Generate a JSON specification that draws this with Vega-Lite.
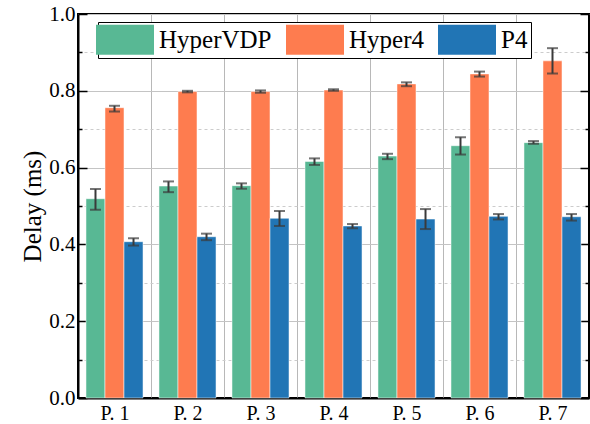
{
  "$schema": "https://vega.github.io/schema/vega-lite/v6.json",
  "autosize": "none",
  "width": 511,
  "height": 384,
  "padding": {"left": 78, "top": 14, "right": 1, "bottom": 26},
  "background": "white",
  "config": {
    "view": {"stroke": "black", "strokeWidth": 2},
    "font": "Liberation Serif"
  },
  "data": {
    "values": [
      {"g": "P. 1", "s": "HyperVDP", "v": 0.519, "lo": 0.490, "hi": 0.544},
      {"g": "P. 1", "s": "Hyper4", "v": 0.756, "lo": 0.746, "hi": 0.761},
      {"g": "P. 1", "s": "P4", "v": 0.407, "lo": 0.397, "hi": 0.416},
      {"g": "P. 2", "s": "HyperVDP", "v": 0.552, "lo": 0.536, "hi": 0.564},
      {"g": "P. 2", "s": "Hyper4", "v": 0.798, "lo": 0.796, "hi": 0.800},
      {"g": "P. 2", "s": "P4", "v": 0.420, "lo": 0.411, "hi": 0.428},
      {"g": "P. 3", "s": "HyperVDP", "v": 0.553, "lo": 0.545, "hi": 0.559},
      {"g": "P. 3", "s": "Hyper4", "v": 0.798, "lo": 0.795, "hi": 0.801},
      {"g": "P. 3", "s": "P4", "v": 0.468, "lo": 0.448, "hi": 0.487},
      {"g": "P. 4", "s": "HyperVDP", "v": 0.616, "lo": 0.607, "hi": 0.624},
      {"g": "P. 4", "s": "Hyper4", "v": 0.802, "lo": 0.800, "hi": 0.804},
      {"g": "P. 4", "s": "P4", "v": 0.448, "lo": 0.442, "hi": 0.453},
      {"g": "P. 5", "s": "HyperVDP", "v": 0.630, "lo": 0.622, "hi": 0.636},
      {"g": "P. 5", "s": "Hyper4", "v": 0.818, "lo": 0.812, "hi": 0.822},
      {"g": "P. 5", "s": "P4", "v": 0.466, "lo": 0.440, "hi": 0.492},
      {"g": "P. 6", "s": "HyperVDP", "v": 0.657, "lo": 0.634, "hi": 0.679},
      {"g": "P. 6", "s": "Hyper4", "v": 0.844, "lo": 0.837, "hi": 0.850},
      {"g": "P. 6", "s": "P4", "v": 0.473, "lo": 0.465, "hi": 0.479},
      {"g": "P. 7", "s": "HyperVDP", "v": 0.665, "lo": 0.662, "hi": 0.669},
      {"g": "P. 7", "s": "Hyper4", "v": 0.878, "lo": 0.845, "hi": 0.911},
      {"g": "P. 7", "s": "P4", "v": 0.472, "lo": 0.462, "hi": 0.479}
    ]
  },
  "resolve": {"axis": {"x": "independent", "y": "independent"}},
  "layer": [
    {
      "mark": {"type": "bar", "stroke": "white", "strokeOpacity": 0.5, "strokeWidth": 1},
      "encoding": {
        "x": {
          "field": "g", "type": "nominal", "sort": null,
          "scale": {"paddingInner": 0, "paddingOuter": 0},
          "axis": {
            "title": null, "labelAngle": 0, "labelFontSize": 20, "labelColor": "black",
            "labelFont": "Liberation Serif", "labelPadding": 5,
            "ticks": false, "domainColor": "black", "domainWidth": 2,
            "grid": true, "tickBand": "extent", "gridColor": "#b8b8b8", "gridWidth": 1
          }
        },
        "xOffset": {
          "field": "s", "type": "nominal", "sort": ["HyperVDP", "Hyper4", "P4"],
          "scale": {"paddingInner": 0, "paddingOuter": 0.42}
        },
        "y": {
          "field": "v", "type": "quantitative",
          "scale": {"domain": [0, 1], "nice": false, "zero": true},
          "axis": {
            "title": "Delay (ms)", "titleFontSize": 25, "titleFont": "Liberation Serif",
            "titleFontWeight": "normal", "titleColor": "black", "titlePadding": 3,
            "values": [0, 0.1, 0.2, 0.3, 0.4, 0.5, 0.6, 0.7, 0.8, 0.9, 1.0],
            "labelExpr": "round(datum.value*10)%2==0 ? format(datum.value, '.1f') : ''",
            "labelFontSize": 21, "labelColor": "black", "labelFont": "Liberation Serif",
            "labelPadding": 12,
            "domainColor": "black", "domainWidth": 2,
            "tickColor": "black", "tickWidth": 1.5,
            "tickSize": {"condition": {"test": "round(datum.value*10)%2==0", "value": -9}, "value": -4},
            "grid": true,
            "gridColor": {"condition": {"test": "round(datum.value*10)%2==0", "value": "#c4c4c4"}, "value": "#cccccc"},
            "gridDash": {"condition": {"test": "round(datum.value*10)%2==0", "value": []}, "value": [3, 3]},
            "gridWidth": 1
          }
        },
        "fill": {
          "field": "s", "type": "nominal", "sort": ["HyperVDP", "Hyper4", "P4"],
          "scale": {"domain": ["HyperVDP", "Hyper4", "P4"], "range": ["#58b894", "#fe7c4f", "#2175b5"]},
          "legend": {
            "title": null, "orient": "none", "legendX": 20, "legendY": 8,
            "direction": "horizontal",
            "strokeColor": "black", "fillColor": "white", "padding": 3,
            "symbolType": "M-2,-1.03H2V1.03H-2Z", "symbolSize": 841,
            "symbolOffset": 9.5,
            "symbolStrokeWidth": 0,
            "labelFontSize": 25, "labelFont": "Liberation Serif", "labelColor": "black",
            "labelOffset": 19.5, "columnPadding": 14
          }
        }
      }
    },
    {
      "mark": {"type": "rule", "color": "#3a3a3a", "strokeWidth": 2},
      "encoding": {
        "x": {"field": "g", "type": "nominal", "sort": null, "axis": null},
        "xOffset": {"field": "s", "type": "nominal", "sort": ["HyperVDP", "Hyper4", "P4"]},
        "y": {"field": "lo", "type": "quantitative", "axis": null},
        "y2": {"field": "hi"}
      }
    },
    {
      "mark": {"type": "tick", "color": "#3a3a3a", "size": 11, "thickness": 2},
      "encoding": {
        "x": {"field": "g", "type": "nominal", "sort": null, "axis": null},
        "xOffset": {"field": "s", "type": "nominal", "sort": ["HyperVDP", "Hyper4", "P4"]},
        "y": {"field": "lo", "type": "quantitative", "axis": null}
      }
    },
    {
      "mark": {"type": "tick", "color": "#3a3a3a", "size": 11, "thickness": 2},
      "encoding": {
        "x": {"field": "g", "type": "nominal", "sort": null, "axis": null},
        "xOffset": {"field": "s", "type": "nominal", "sort": ["HyperVDP", "Hyper4", "P4"]},
        "y": {
          "field": "hi", "type": "quantitative",
          "axis": {
            "orient": "right", "title": null, "labels": false, "grid": false,
            "values": [0, 0.1, 0.2, 0.3, 0.4, 0.5, 0.6, 0.7, 0.8, 0.9, 1.0],
            "domainColor": "black", "domainWidth": 2,
            "tickColor": "black", "tickWidth": 1.5,
            "tickSize": {"condition": {"test": "round(datum.value*10)%2==0", "value": -9}, "value": -4}
          }
        }
      }
    }
  ]
}
